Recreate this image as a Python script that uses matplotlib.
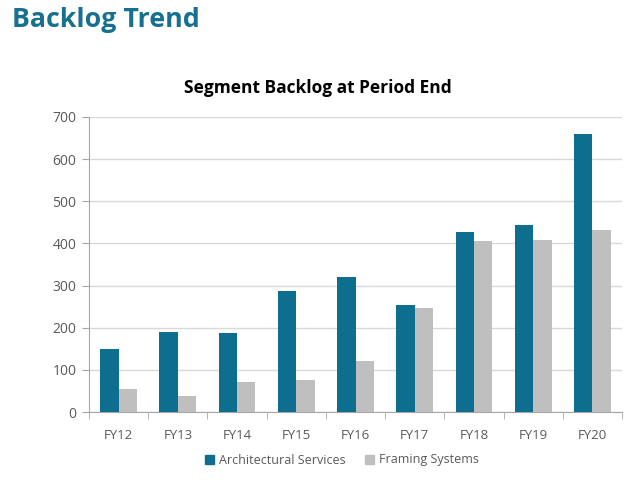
import matplotlib
matplotlib.use("Agg")
import matplotlib.pyplot as plt
import numpy as np
from matplotlib.patches import Patch

categories = ["FY12", "FY13", "FY14", "FY15", "FY16", "FY17", "FY18", "FY19", "FY20"]
arch = [150, 191, 188, 288, 320, 255, 427, 444, 660]
framing = [54, 39, 72, 77, 122, 246, 406, 409, 432]
yticks = [0, 100, 200, 300, 400, 500, 600, 700]

plt.rcParams['font.family'] = ['Open Sans', 'DejaVu Sans']

c_arch = "#0E6E8F"
c_fram = "#BFBFBF"
grid_c = "#D9D9D9"
axis_c = "#A6A6A6"
text_c = "#595959"

fig = plt.figure(figsize=(6.4, 4.84), dpi=100)
ax = fig.add_axes([89/640, 1-412/484, (622-89)/640, (412-117)/484])

x = np.arange(len(categories))
w = 0.31
ax.bar(x - w/2, arch, w, color=c_arch, label="Architectural Services", zorder=3)
ax.bar(x + w/2, framing, w, color=c_fram, label="Framing Systems", zorder=3)

ax.set_xlim(-0.5, len(categories) - 0.5)
ax.set_ylim(0, 700)
ax.set_yticks(yticks)
ax.yaxis.grid(True, color=grid_c, linewidth=1, zorder=0)
ax.set_axisbelow(True)
for s in ["top", "right"]:
    ax.spines[s].set_visible(False)
ax.spines["left"].set_color(axis_c)
ax.spines["bottom"].set_color(axis_c)
ax.set_xticks(x)
ax.set_xticklabels(categories)
ax.set_xticks(np.arange(-0.5, len(categories), 1), minor=True)
ax.tick_params(axis="x", which="major", length=0, pad=12, labelsize=9.5, labelcolor=text_c)
ax.tick_params(axis="x", which="minor", length=5, color=axis_c, direction="out")
ax.tick_params(axis="y", length=5, color=axis_c, labelsize=10, labelcolor=text_c, pad=4)

fig.text(12/640, 1-20/484, "Backlog Trend", color="#17708F", fontsize=19.3, fontweight="bold",
         ha="left", va="center")
fig.text(318/640, 1-88/484, "Segment Backlog at Period End", color="black", fontsize=12.5,
         fontweight="bold", ha="center", va="center")

handles = [Patch(color=c_arch, label="Architectural Services"),
           Patch(color=c_fram, label="Framing Systems")]
fig.legend(handles=handles, loc="center", bbox_to_anchor=(342/640, 1-460/484), ncol=2,
           frameon=False, fontsize=9, handlelength=0.7, handleheight=0.7,
           handletextpad=0.4, columnspacing=1.6, labelcolor=text_c)

fig.savefig("out.png", dpi=100)
